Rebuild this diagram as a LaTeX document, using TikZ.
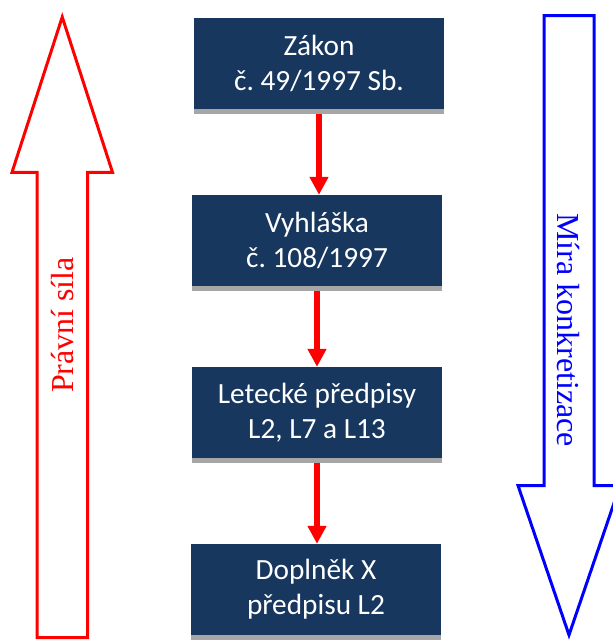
\documentclass[tikz,border=0pt]{standalone}
\usepackage{fontspec}
\setmainfont{Liberation Serif}
\newfontfamily\boxfont{Carlito}
\usetikzlibrary{arrows.meta,shadows}
\definecolor{navy}{HTML}{17375E}
\definecolor{shadowgray}{HTML}{A6A6A6}
\frenchspacing
\tikzset{
  lawbox/.style={fill=navy, text=white, minimum width=250pt, minimum height=91pt,
    inner sep=0pt, align=center, font=\boxfont\fontsize{29.3}{35}\selectfont,
    drop shadow={shadow xshift=0pt, shadow yshift=-5pt, fill=shadowgray, opacity=1}},
  conn/.style={draw=red, line width=6.5pt, -{Triangle[width=18pt,length=18pt]}},
  bigred/.style={draw=red, line width=3pt, line join=miter},
  bigblue/.style={draw=blue, line width=3pt, line join=miter},
  sidetext/.style={font=\fontsize{32}{38}\selectfont, inner sep=0pt, anchor=base}
}
\begin{document}
\begin{tikzpicture}[x=1pt,y=-1pt]
\useasboundingbox (0,0) rectangle (613,641);
% big outline arrows
\draw[bigred] (62.25,17) -- (112.5,172.3) -- (87.5,172.3) -- (87.5,637.5) -- (37,637.5) -- (37,172.3) -- (12,172.3) -- cycle;
\draw[bigblue] (569,635) -- (518,485.5) -- (544,485.5) -- (544,15.7) -- (594,15.7) -- (594,485.5) -- (620,485.5) -- cycle;
\node[sidetext, text=red, rotate=90] (sila) at (74,325) {Právní síla};
\node[sidetext, text=blue, rotate=-90] (mira) at (557,330) {Míra konkretizace};
% boxes
\node[lawbox] (b1) at (319,63.5) {Zákon\\č. 49/1997 Sb.};
\node[lawbox] (b2) at (317,240.5) {Vyhláška\\č. 108/1997};
\node[lawbox] (b3) at (317,412.5) {Letecké předpisy\\L2, L7 a L13};
\node[lawbox] (b4) at (316,589.5) {Doplněk X\\předpisu L2};
% connectors
\draw[conn] ([yshift=-5pt]b1.south) -- (b1.south |- b2.north);
\draw[conn] ([yshift=-5pt]b2.south) -- (b2.south |- b3.north);
\draw[conn] ([yshift=-5pt]b3.south) -- (b3.south |- b4.north);
\end{tikzpicture}
\end{document}
